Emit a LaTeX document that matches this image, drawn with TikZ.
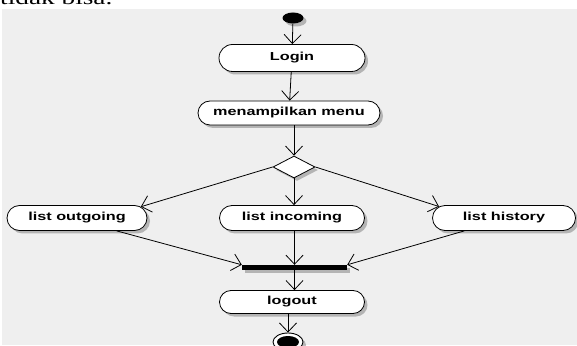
\documentclass[tikz,border=0pt]{standalone}
\usepackage{fontspec}
\newfontfamily\lblfont[FakeStretch=1.4]{Liberation Sans}
\newfontfamily\bodyfont[FakeStretch=1.4]{Liberation Serif}
\usetikzlibrary{arrows.meta,shapes.misc,shapes.geometric,shadows}
\definecolor{canvas}{RGB}{239,239,239}
\definecolor{shade}{RGB}{110,110,110}

\tikzset{
  shade/.style={drop shadow={shadow xshift=3pt,shadow yshift=-3pt,opacity=0.45,fill=shade}},
  activity/.style={rounded rectangle,draw=black,line width=0.8pt,fill=white,
    minimum height=25pt,inner sep=0pt,shade,
    font=\lblfont\bfseries\fontsize{11.6}{13}\selectfont},
  decision/.style={diamond,draw=black,line width=0.8pt,fill=white,aspect=1.9,
    minimum width=42pt,minimum height=22pt,inner sep=0pt,shade},
  forkbar/.style={rectangle,fill=black,minimum width=105pt,minimum height=5pt,
    inner sep=0pt,shade},
  initial/.style={ellipse,fill=black,minimum width=21pt,minimum height=11pt,
    inner sep=0pt,shade},
  final/.style={ellipse,draw=black,line width=0.9pt,fill=white,minimum width=30pt,
    minimum height=18pt,inner sep=0pt,shade},
  flow/.style={line width=0.8pt,-{Straight Barb[length=9pt,width=17pt,line width=0.8pt]}}
}

\begin{document}
\begin{tikzpicture}[x=1pt,y=1pt]
  \useasboundingbox (0,0) rectangle (577,345);
  \begin{scope}
    \clip (0,0) rectangle (577,345);
    % page background and the line of text above the figure
    \fill[canvas] (2,0) rectangle (577,335.5);
    \node[anchor=base west,inner sep=0pt,font=\bodyfont\fontsize{19.5}{22}\selectfont]
      (caption) at (0,340.5) {tidak bisa.};

    % activity nodes
    \node[initial]  (start)  at (293,327) {};
    \node[activity,minimum width=146pt,minimum height=27pt] (login) at (292,287) {Login};
    \node[activity,minimum width=182pt,minimum height=24pt] (menu)  at (289,232) {menampilkan menu};
    \node[decision] (dia) at (294,178) {};
    \node[activity,minimum width=140pt] (out) at (77,127)  {list outgoing};
    \node[activity,minimum width=145pt] (inc) at (292,127) {list incoming};
    \node[activity,minimum width=143pt] (his) at (504,127) {list history};
    \node[forkbar] (bar) at (294.5,77.5) {};
    \node[activity,minimum width=145pt,minimum height=23pt] (logout) at (292,43) {logout};
    \node[final] (end) at (288,3) {};
    \node[ellipse,fill=black,minimum width=22pt,minimum height=12pt,inner sep=0pt] (enddot) at (end.center) {};

    % control flow
    \draw[flow] (start) -- (login);
    \draw[flow] (login) -- (menu);
    \draw[flow] (menu.south -| dia.north) -- (dia.north);
    \draw[flow] (dia.west) -- (out.10);
    \draw[flow] (dia.south) -- (dia.south |- inc.north);
    \draw[flow] (dia.east) -- (his.170);
    \draw[flow] (out.-18) -- (bar.north west);
    \draw[flow] (inc.south -| bar.north) -- (bar.north);
    \draw[flow] (his.198) -- (bar.north east);
    \draw[flow] (bar.south) -- (bar.south |- logout.north);
    \draw[flow] (logout.south -| end.north) -- (end.north);
  \end{scope}
\end{tikzpicture}
\end{document}
